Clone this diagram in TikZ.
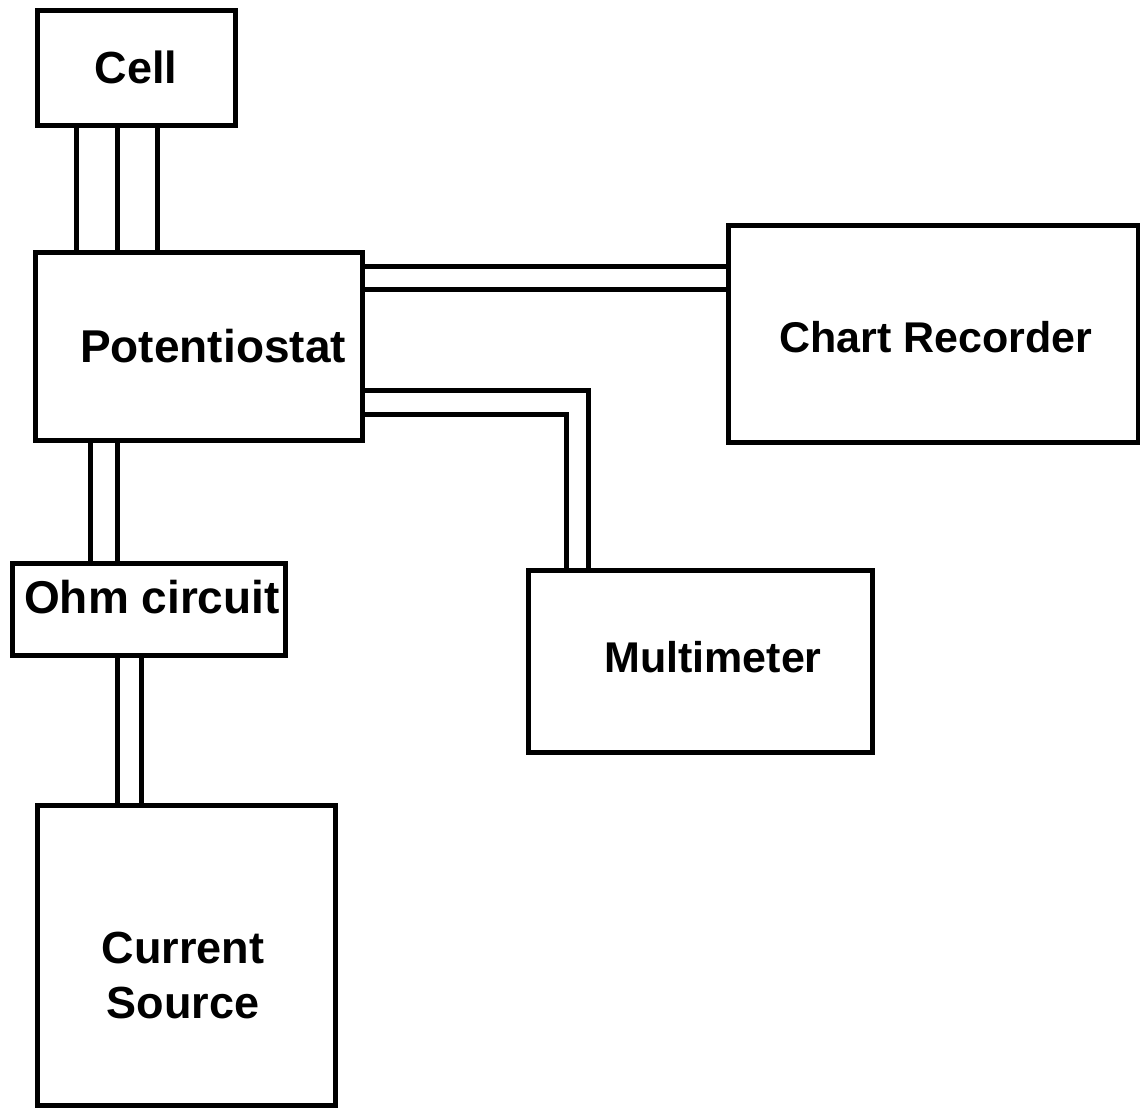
\documentclass[tikz,border=0pt]{standalone}
\usepackage{fontspec}
\setmainfont{Liberation Sans}
\newcommand{\lblsize}[1]{\bfseries\fontsize{#1}{55}\selectfont}
\begin{document}
\begin{tikzpicture}[x=1pt, y=-1pt,
  unit/.style={draw=black, line width=5pt, rectangle, inner sep=0pt, outer sep=0pt},
  lbl/.style={inner sep=0pt, text=black, align=center},
  wire/.style={draw=black, line width=5pt}]
  % page
  \useasboundingbox (0,0) rectangle (1140,1111);
  \fill[white] (0,0) rectangle (1140,1111);

  % instruments
  \node[unit, minimum width=198, minimum height=115,
        label={[lbl, font=\lblsize{45}]center:Cell}] (cell) at (136,67.5) {};
  \node[unit, minimum width=327, minimum height=188,
        label={[lbl, font=\lblsize{46}, xshift=14.5pt]center:Potentiostat}] (pot) at (198.5,346) {};
  \node[unit, minimum width=410, minimum height=217,
        label={[lbl, font=\lblsize{43}, xshift=3pt, yshift=-3.5pt]center:Chart Recorder}] (chart) at (933,333.5) {};
  \node[unit, minimum width=344, minimum height=182,
        label={[lbl, font=\lblsize{43}, xshift=13pt, yshift=4pt]center:Multimeter}] (multi) at (700,661) {};
  \node[unit, minimum width=273, minimum height=92,
        label={[lbl, font=\lblsize{46}, xshift=3.5pt, yshift=12pt]center:Ohm circuit}] (ohm) at (148.5,609) {};
  \node[unit, minimum width=298, minimum height=300,
        label={[lbl, font=\lblsize{45}, xshift=-3pt, yshift=-20pt]center:{Current\\Source}}] (cur) at (186,955) {};

  % cell leads (three wires)
  \draw[wire] (cell.south -| 76,0)  -- (pot.north -| 76,0);
  \draw[wire] (cell.south -| 117,0) -- (pot.north -| 117,0);
  \draw[wire] (cell.south -| 157,0) -- (pot.north -| 157,0);

  % potentiostat to chart recorder
  \draw[wire] (pot.east |- 0,266) -- (chart.west |- 0,266);
  \draw[wire] (pot.east |- 0,289) -- (chart.west |- 0,289);

  % potentiostat to multimeter
  \draw[wire] (pot.east |- 0,390) -- (588,390) -- (multi.north -| 588,0);
  \draw[wire] (pot.east |- 0,414) -- (566,414) -- (multi.north -| 566,0);

  % potentiostat to ohm circuit
  \draw[wire] (pot.south -| 90,0)  -- (ohm.north -| 90,0);
  \draw[wire] (pot.south -| 117,0) -- (ohm.north -| 117,0);

  % ohm circuit to current source
  \draw[wire] (ohm.south -| 117,0) -- (cur.north -| 117,0);
  \draw[wire] (ohm.south -| 141,0) -- (cur.north -| 141,0);
\end{tikzpicture}
\end{document}
